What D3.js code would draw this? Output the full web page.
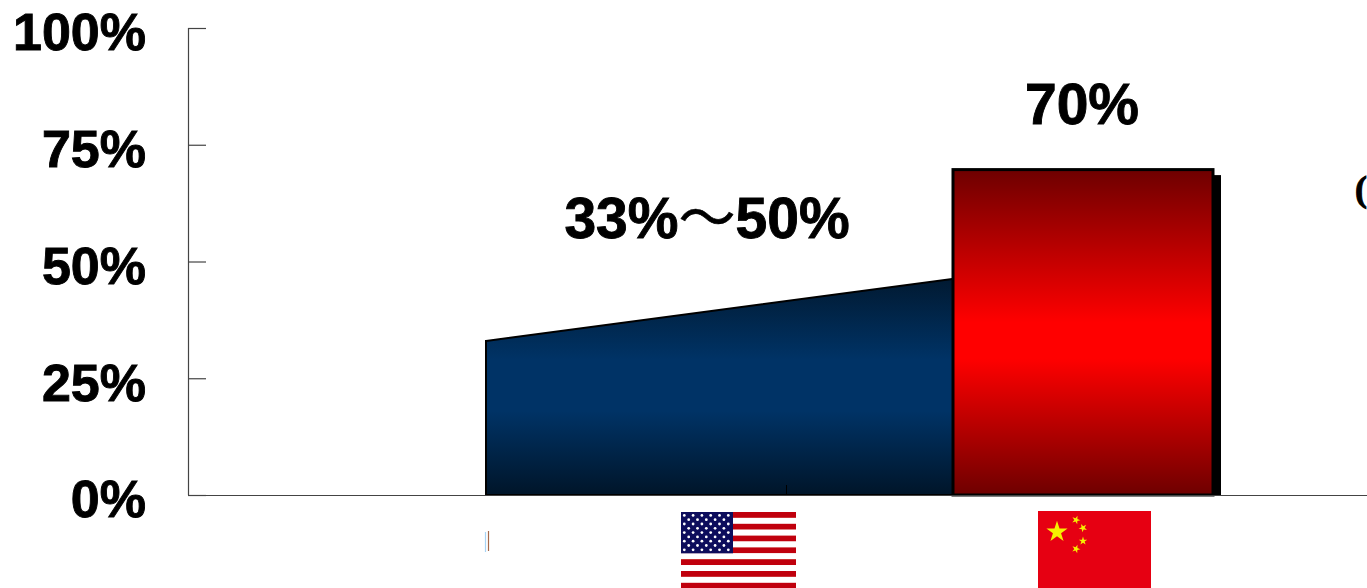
<!DOCTYPE html>
<html>
<head>
<meta charset="utf-8">
<style>
html,body{margin:0;padding:0;background:#fff;overflow:hidden}
svg{display:block}
text{font-family:"Liberation Sans",Arial,sans-serif;font-weight:bold;fill:#000}
</style>
<script src="https://cdn.jsdelivr.net/npm/d3@7/dist/d3.min.js"></script>
</head>
<body>
<script>
// Share of spending, by country
const yTicks = [0, 25, 50, 75, 100];
const usRange = [33, 50];
const chinaValue = 70;
const usLabelParts = ["33%", "～", "50%"];
const chinaLabel = "70%";

const width = 1367, height = 588;
const svg = d3.select("body").append("svg").attr("width", width).attr("height", height);

const y = d3.scaleLinear().domain([0, 100]).range([495, 28]);
// Position across the plot: 0 = start of the US wedge, 1 = centre of the China bar
const x = d3.scaleLinear().domain([0, 1]).range([486, 1083]);
const barHalf = 130;

const defs = svg.append("defs");
function gradient(id, stops) {
  const g = defs.append("linearGradient").attr("id", id)
    .attr("x1", 0).attr("y1", 0).attr("x2", 0).attr("y2", 1);
  stops.forEach(([o, c]) => g.append("stop").attr("offset", o).attr("stop-color", c));
}
gradient("blueFill", [[0, "#011426"], [0.42, "#003366"], [0.64, "#003366"], [1, "#001529"]]);
gradient("redFill", [[0, "#6e0000"], [0.47, "#ff0000"], [0.58, "#ff0000"], [1, "#6e0000"]]);
defs.append("filter").attr("id", "soften")
  .append("feGaussianBlur").attr("stdDeviation", 0.4);

// US range: wedge rising from the low to the high estimate
svg.append("path")
  .datum([[0, usRange[0]], [1, usRange[1]], [1, 0], [0, 0]])
  .attr("d", d3.line().x(d => x(d[0])).y(d => y(d[1])).curve(d3.curveLinearClosed))
  .attr("fill", "url(#blueFill)")
  .attr("stroke", "#000").attr("stroke-width", 2);

// Tick under the US wedge
svg.append("line")
  .attr("x1", 786.5).attr("x2", 786.5)
  .attr("y1", y(0) - 10).attr("y2", y(0))
  .attr("stroke", "#000").attr("stroke-width", 1);

// China bar with its drop shadow
svg.append("rect")
  .attr("x", x(1) - barHalf + 8).attr("y", y(chinaValue) + 7)
  .attr("width", barHalf * 2).attr("height", y(0) - y(chinaValue) - 7)
  .attr("fill", "#000");
svg.append("rect")
  .attr("x", x(1) - barHalf).attr("y", y(chinaValue) + 1.5)
  .attr("width", barHalf * 2).attr("height", y(0) - y(chinaValue) - 1.5)
  .attr("fill", "url(#redFill)")
  .attr("stroke", "#000").attr("stroke-width", 3);

// Value axis, with ticks pointing into the plot
const axis = svg.append("g").attr("transform", "translate(188,0)")
  .call(d3.axisLeft(y).tickValues(yTicks).tickFormat(d => d + "%")
    .tickSize(-18).tickSizeOuter(0).tickPadding(42));
axis.selectAll("path,line").attr("stroke", "#444").attr("stroke-width", 1.2);
axis.selectAll("text")
  .attr("font-size", 52).attr("dy", "0.42em")
  .style("font-family", '"Liberation Sans",Arial,sans-serif')
  .style("font-weight", "bold").attr("fill", "#000")
  .attr("stroke", "#000").attr("stroke-width", 0.9);
axis.select(".domain").attr("d", `M0.5,${y(100)}V${y(0)}`);

// Baseline runs off the right edge
svg.append("line")
  .attr("x1", 188).attr("x2", width)
  .attr("y1", y(0) + 0.5).attr("y2", y(0) + 0.5)
  .attr("stroke", "#444").attr("stroke-width", 1.2);

// Value labels
const usLabel = svg.append("text").attr("x", 707).attr("y", 238)
  .attr("text-anchor", "middle").attr("font-size", 57)
  .attr("stroke", "#000").attr("stroke-width", 0.9);
usLabel.append("tspan").text(usLabelParts[0]);
usLabel.append("tspan").text(usLabelParts[1])
  .style("font-family", '"Noto Sans CJK SC"').style("font-weight", "400").attr("stroke-width", 0.6);
usLabel.append("tspan").text(usLabelParts[2]);

svg.append("text").attr("x", x(1) - 1).attr("y", 124)
  .attr("text-anchor", "middle").attr("font-size", 57)
  .attr("stroke", "#000").attr("stroke-width", 0.9).text(chinaLabel);

// Bracket at the right edge
svg.append("text").attr("x", 1355).attr("y", 201).attr("font-size", 36)
  .attr("stroke", "#000").attr("stroke-width", 1)
  .style("font-family", '"Liberation Serif",serif').text("(");

// Small stray mark where the first flag would sit
svg.append("line").attr("x1", 488.5).attr("x2", 488.5).attr("y1", 531).attr("y2", 551)
  .attr("stroke", "#a5694a").attr("stroke-width", 1.2);
svg.append("line").attr("x1", 485.5).attr("x2", 485.5).attr("y1", 532).attr("y2", 552)
  .attr("stroke", "#a8d4f5").attr("stroke-width", 1.2);

// US flag
const us = svg.append("g").attr("transform", "translate(681,512)").attr("filter", "url(#soften)");
const stripeH = 5.9, flagW = 115, cantonW = 52;
d3.range(14).forEach(i => us.append("rect")
  .attr("y", i * stripeH).attr("width", flagW).attr("height", stripeH)
  .attr("fill", i % 2 ? "#fff" : "#c00008"));
us.append("rect").attr("width", cantonW).attr("height", stripeH * 7).attr("fill", "#0a0a5c");
d3.range(9).forEach(r => {
  const n = r % 2 ? 5 : 6;
  d3.range(n).forEach(c => us.append("circle")
    .attr("cx", (r % 2 ? 7.7 : 3.3) + c * 8.8)
    .attr("cy", 3.4 + r * 4.3)
    .attr("r", 1.4).attr("fill", "#fff"));
});

// China flag
const cn = svg.append("g").attr("transform", "translate(1038,511)");
cn.append("rect").attr("width", 113).attr("height", 80).attr("fill", "#e60012");
const star = d3.symbol().type(d3.symbolStar);
[[19, 21, 140, 0], [38, 9, 22, 20], [45, 17, 22, 45], [45, 30, 22, 0], [38, 38, 22, 20]]
  .forEach(([cx, cy, size, rot]) => cn.append("path")
    .attr("d", star.size(size)())
    .attr("transform", `translate(${cx},${cy}) rotate(${rot})`)
    .attr("fill", "#f5f000"));
</script>
</body>
</html>
